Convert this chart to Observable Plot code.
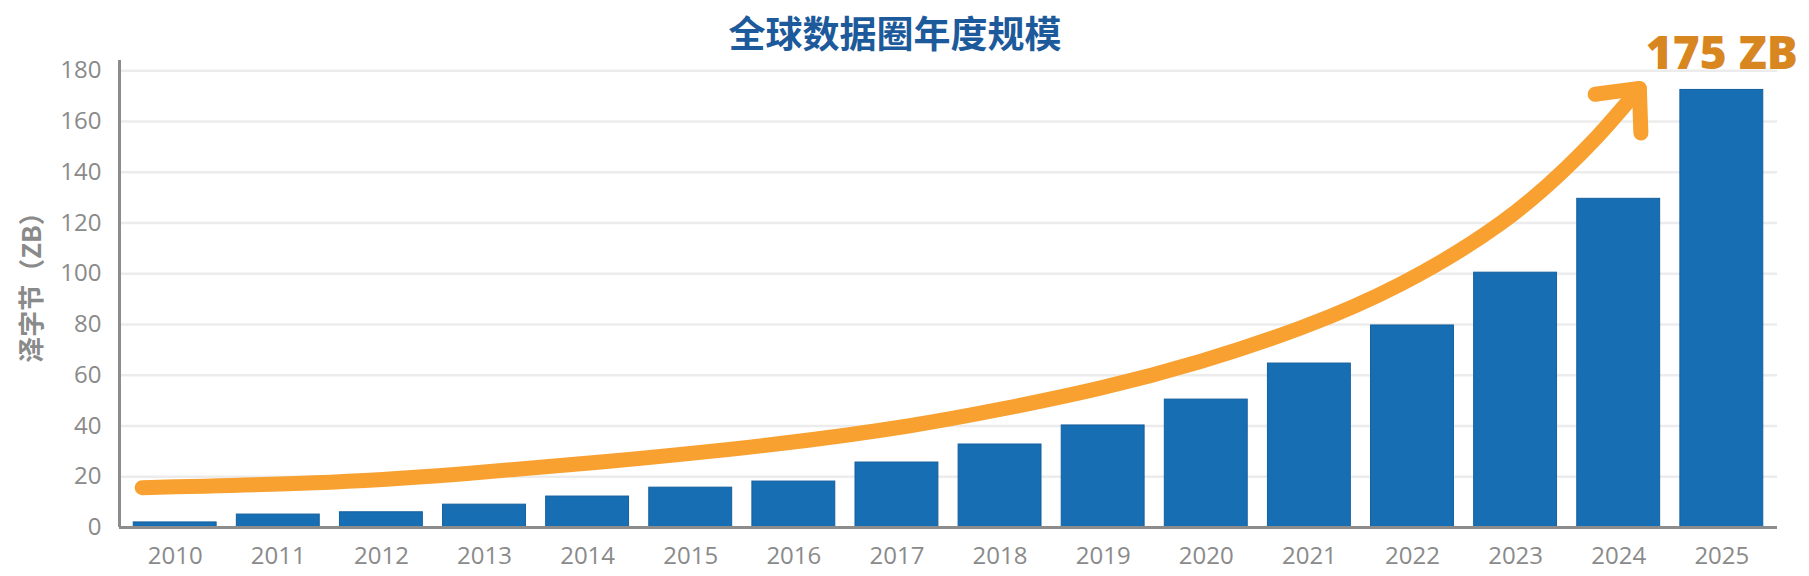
<!DOCTYPE html>
<html>
<head>
<meta charset="utf-8">
<script src="https://cdn.jsdelivr.net/npm/d3@7"></script>
<script src="https://cdn.jsdelivr.net/npm/@observablehq/plot@0.6"></script>
<style>
  html, body { margin: 0; padding: 0; background: #ffffff; }
  #wrap { position: relative; width: 1809px; height: 576px; overflow: hidden; }
  #title {
    position: absolute; top: 9px; left: 0; width: 1790px; text-align: center;
    font-family: "Noto Sans CJK SC", "Noto Sans", sans-serif; font-weight: 700;
    font-size: 37px; color: #1d5a9b; line-height: 46px; letter-spacing: 0px;
  }
</style>
</head>
<body>
<div id="wrap">
  <div id="chart"></div>
  <div id="title">全球数据圈年度规模</div>
</div>
<script>
// ---- data ----
const years  = [2010, 2011, 2012, 2013, 2014, 2015, 2016, 2017, 2018, 2019, 2020, 2021, 2022, 2023, 2024, 2025];
const values = [2.0, 5.1, 6.0, 9.0, 12.2, 15.7, 18.1, 25.6, 32.7, 40.2, 50.4, 64.6, 79.6, 100.4, 129.5, 172.4];
const yTicks = [0, 20, 40, 60, 80, 100, 120, 140, 160, 180];
const gridTicks = [20, 40, 60, 80, 100, 120, 140, 160, 180];
// trend arrow (hand-drawn annotation) in data units
const trendYears  = [2009.68, 2011.35, 2012.74, 2014.13, 2015.81, 2017.11, 2018.01, 2018.98, 2019.95, 2020.92, 2021.89, 2022.86, 2023.5, 2023.86, 2024.2];
const trendValues = [15.7, 17.6, 21.0, 25.8, 32.8, 40.0, 46.6, 55.0, 65.5, 78.7, 96.0, 120.0, 142.0, 157.0, 173.0];
const peakLabel = {year: 2025, value: 175, text: "175 ZB"};
const yLabel = "泽字节（ZB）";

const bars = years.map((y, i) => ({year: y, value: values[i]}));
const trend = trendYears.map((y, i) => ({year: y, value: trendValues[i]}));

const xDomain = [2009.46, 2025.54];
const yDomain = [0, 184];

const plot = Plot.plot({
  width: 1809,
  height: 576,
  marginLeft: 119,
  marginRight: 32,
  marginTop: 60,
  marginBottom: 49,
  style: {fontFamily: "'Open Sans', 'Noto Sans', sans-serif", fontSize: "24px", color: "#8a8a8a", background: "transparent", overflow: "visible"},
  x: {domain: xDomain, axis: null},
  y: {domain: yDomain, axis: null},
  marks: [
    Plot.ruleY(gridTicks, {stroke: "#ececec", strokeWidth: 2.5}),
    Plot.rectY(bars, {x1: d => d.year - 0.402, x2: d => d.year + 0.402, y: "value", fill: "#176eb2", stroke: "#155f9e", strokeWidth: 1}),
    Plot.ruleX([xDomain[0]], {stroke: "#8c8c8c", strokeWidth: 3}),
    Plot.ruleY([0], {stroke: "#8c8c8c", strokeWidth: 3}),
    Plot.axisY({ticks: yTicks, tickSize: 0, tickPadding: 18, fontSize: 24, label: null, tickFormat: d => String(d)}),
    Plot.axisX({ticks: years, tickSize: 0, tickPadding: 19, fontSize: 24, label: null, tickFormat: d => String(d)}),
    Plot.text([yLabel], {frameAnchor: "left", rotate: -90, dx: -87, dy: -13, textAnchor: "middle",
      fontSize: 26, fontWeight: 700, fill: "#8a8a8a", fontFamily: "'Noto Sans CJK SC', sans-serif"}),
    Plot.line(trend, {x: "year", y: "value", curve: "natural", stroke: "#f8a131", strokeWidth: 15,
      strokeLinecap: "round", strokeLinejoin: "round", markerEnd: "arrow"}),
    Plot.text([peakLabel], {x: "year", y: "value", text: "text", dy: -29, fontSize: 46, fontWeight: 800,
      fill: "#d8861f", fontFamily: "'Open Sans', sans-serif"})
  ]
});

// tighten the arrowhead chevron to match the reference
plot.querySelectorAll("marker path").forEach(p => p.setAttribute("d", "M-3.3,-3L0,0L-3.3,3"));

document.getElementById("chart").appendChild(plot);
</script>
</body>
</html>
